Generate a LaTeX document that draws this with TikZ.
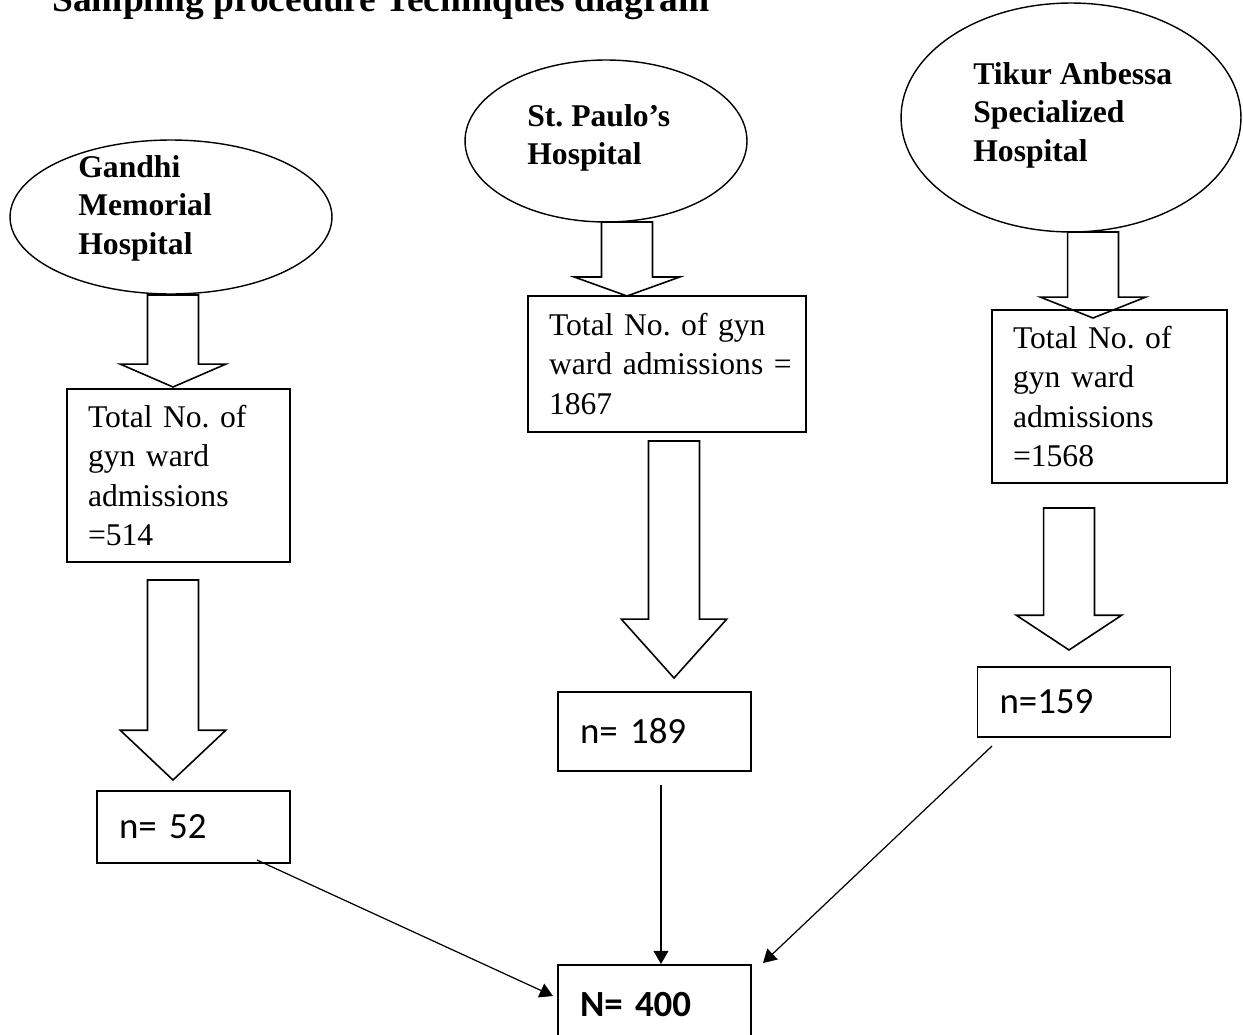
\documentclass[tikz,border=0pt]{standalone}
\usepackage{fontspec}
\setmainfont{Liberation Serif}
\newfontfamily\calfont{Carlito}
\usepackage{tikz}
\usetikzlibrary{calc, shapes.geometric, arrows.meta}
\tikzset{
  hospital/.style = {ellipse, draw, line width=0.8pt, inner sep=0pt},
  hosptext/.style = {anchor=north west, inner sep=0pt, align=left, font=\bfseries\fontsize{18}{21.9}\selectfont},
  totalbox/.style = {rectangle, draw, line width=0.9pt, align=left, inner xsep=0.42cm, font=\fontsize{18}{22.4}\selectfont},
  samplebox/.style = {rectangle, draw, line width=0.9pt, minimum width=3.86cm, text width=2.98cm, align=left, inner xsep=0.44cm, font=\calfont\fontsize{21}{25}\selectfont},
  fatarrow/.style = {draw, line width=0.9pt, line join=miter},
  link/.style = {draw, line width=0.7pt, -{Triangle[length=7.5pt,width=8.5pt]}}
}
% hollow block arrow: #1 top, #2 tip, #3 head length
\newcommand{\blockarrow}[3]{%
  \draw[fatarrow] let \p1=(#1), \p2=(#2) in
    (\x2-14.5pt,\y1) -- (\x2+14.5pt,\y1) -- (\x2+14.5pt,\y2+#3) -- (\x2+30pt,\y2+#3)
    -- (\x2,\y2) -- (\x2-30pt,\y2+#3) -- (\x2-14.5pt,\y2+#3) -- cycle;}

\begin{document}
\frenchspacing
\begin{tikzpicture}[x=0.02cm, y=-0.02cm]
    \useasboundingbox (0,0) rectangle (1243,1034);
    \node[anchor=base west, inner sep=0pt, font=\bfseries\fontsize{21.3}{25}\selectfont] (title) at (52,12) {Sampling procedure Techniques diagram};

    % hospitals
    \node[hospital, minimum width=6.44cm, minimum height=3.08cm] (gandhi) at (171,217) {};
    \node[hosptext] (gandhi_name) at (78,155) {Gandhi\\Memorial\\Hospital};
    \node[hospital, minimum width=5.64cm, minimum height=3.24cm] (paulo) at (606,141) {};
    \node[hosptext] (paulo_name) at (527,104) {St. Paulo’s\\Hospital};
    \node[hospital, minimum width=6.8cm, minimum height=4.58cm] (tikur) at (1071,117.5) {};
    \node[hosptext] (tikur_name) at (973,62) {Tikur Anbessa\\Specialized\\Hospital};

    % admissions
    \node[totalbox, text width=3.62cm, minimum height=3.46cm] (gandhi_total) at (178.5,475.5) {Total No. of\\gyn ward\\admissions\\=514};
    \node[totalbox, text width=4.72cm, minimum height=2.72cm] (paulo_total) at (667,364) {Total No. of gyn\\\mbox{ward admissions =}\\1867};
    \node[totalbox, text width=3.86cm, minimum height=3.46cm] (tikur_total) at (1109.5,396.5) {Total No. of\\gyn ward\\admissions\\=1568};

    % sample sizes
    \node[samplebox, minimum height=1.44cm] (gandhi_n) at (193.5,827) {n= 52};
    \node[samplebox, minimum height=1.58cm] (paulo_n) at (654.5,731.5) {n= 189};
    \node[samplebox, minimum width=3.84cm, minimum height=1.4cm] (tikur_n) at (1074,702) {n=159};
    \node[samplebox, minimum height=1.58cm, font=\calfont\bfseries\fontsize{21}{25}\selectfont] (total_N) at (654.5,1004.5) {N= 400};

    % block arrows
    \coordinate (gandhi_a) at (173,295);  \coordinate (gandhi_b) at (173,387);
    \coordinate (gandhi_c) at (173,580);  \coordinate (gandhi_d) at (173,780);
    \coordinate (paulo_a) at (627,222);   \coordinate (paulo_b) at (627,296);
    \coordinate (paulo_c) at (674,441);   \coordinate (paulo_d) at (674,678);
    \coordinate (tikur_a) at (1093,232);  \coordinate (tikur_b) at (1093,318);
    \coordinate (tikur_c) at (1069,508);  \coordinate (tikur_d) at (1069,650);
    \blockarrow{gandhi_a}{gandhi_b}{13pt}
    \blockarrow{gandhi_c}{gandhi_d}{28.3pt}
    \blockarrow{paulo_a}{paulo_b}{10.8pt}
    \blockarrow{paulo_c}{paulo_d}{33.5pt}
    \blockarrow{tikur_a}{tikur_b}{11.9pt}
    \blockarrow{tikur_c}{tikur_d}{19.8pt}

    % to the total
    \coordinate (gandhi_out) at (257,860);  \coordinate (total_in1) at (553,996);
    \coordinate (paulo_out) at (661,785);   \coordinate (total_in2) at (661,964);
    \coordinate (tikur_out) at (992,746);   \coordinate (total_in3) at (763,963);
    \draw[link] (gandhi_out) -- (total_in1);
    \draw[link] (paulo_out) -- (total_in2);
    \draw[link] (tikur_out) -- (total_in3);
\end{tikzpicture}
\end{document}
